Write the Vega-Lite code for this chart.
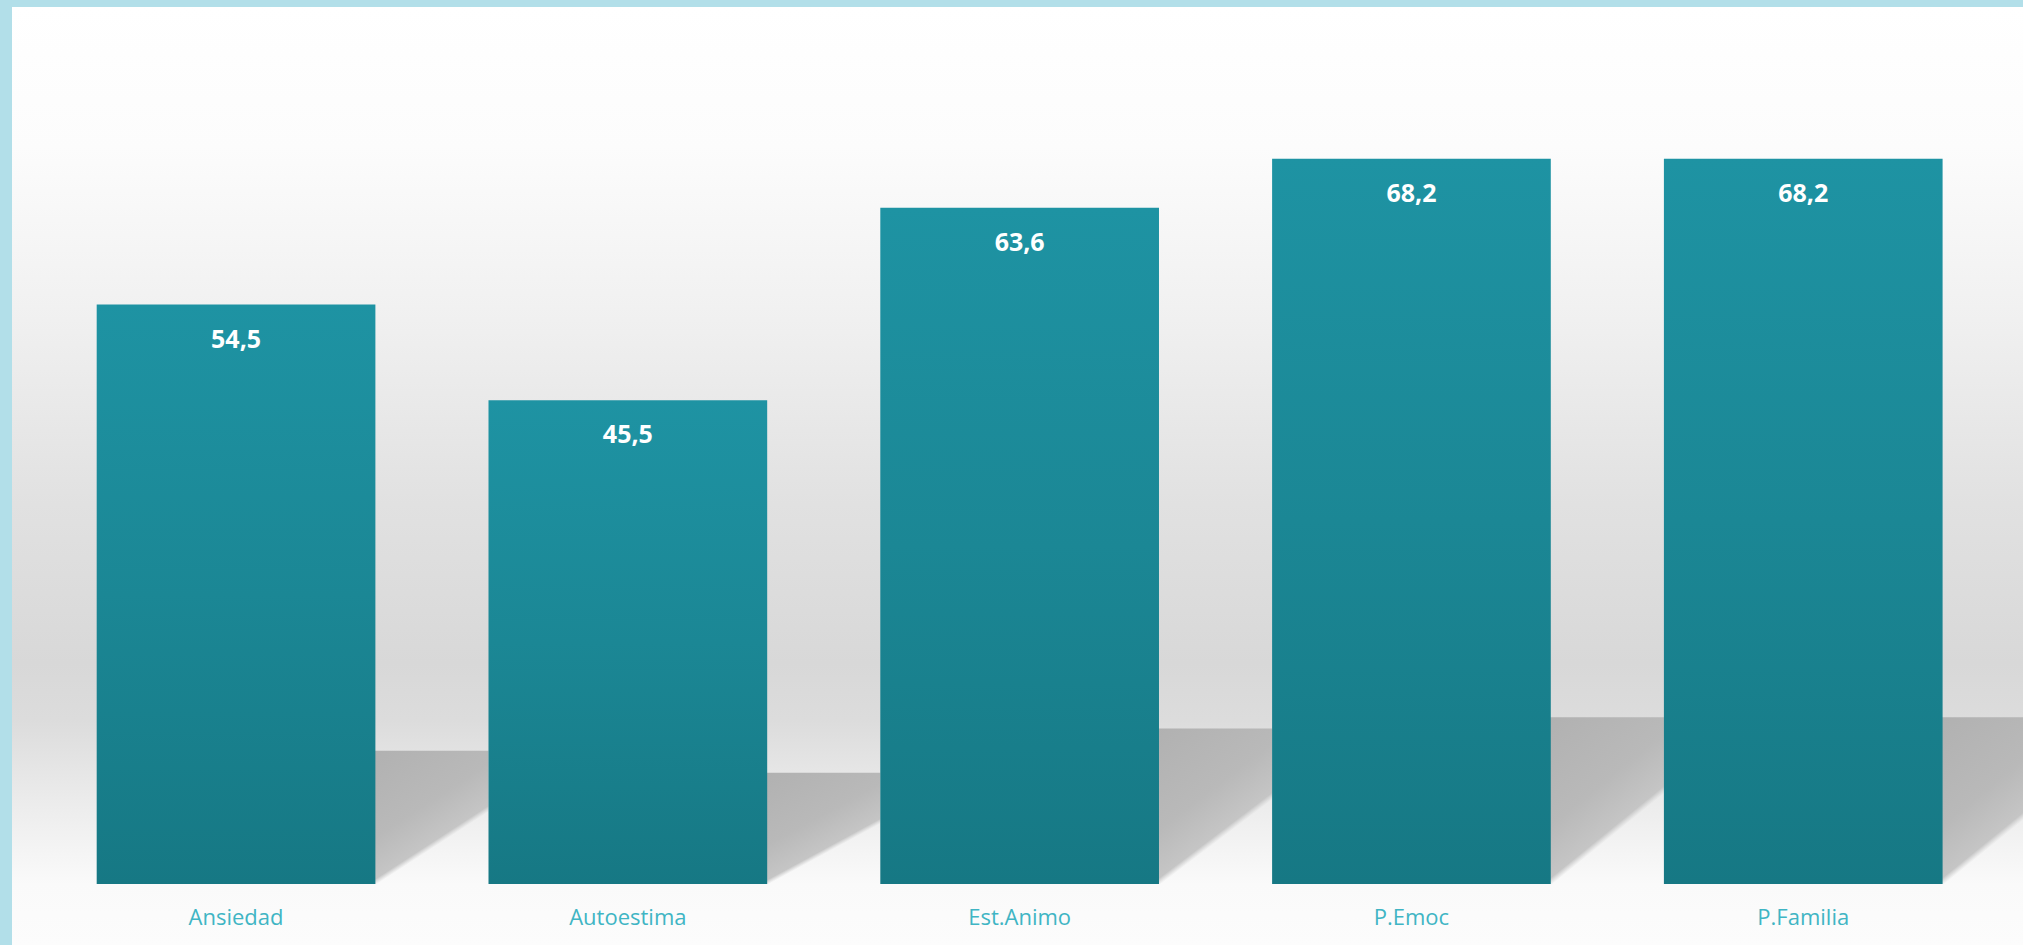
{
  "$schema": "https://vega.github.io/schema/vega-lite/v6.json",
  "autosize": {"type": "fit", "contains": "padding"},
  "width": 2023,
  "height": 945,
  "padding": {"left": 12, "top": 7, "right": 0, "bottom": 0},
  "background": "#b2dfe9",
  "config": {
    "locale": {"number": {"decimal": ",", "thousands": ".", "grouping": [3], "currency": ["", " €"]}},
    "view": {
      "stroke": null,
      "fill": {
        "gradient": "linear", "x1": 0, "y1": 0, "x2": 0, "y2": 1,
        "stops": [
          {"offset": 0, "color": "#ffffff"},
          {"offset": 0.15, "color": "#fcfcfc"},
          {"offset": 0.32, "color": "#f1f1f1"},
          {"offset": 0.53, "color": "#e1e1e1"},
          {"offset": 0.7, "color": "#d8d8d8"},
          {"offset": 0.76, "color": "#dcdcdc"},
          {"offset": 0.85, "color": "#ececec"},
          {"offset": 0.935, "color": "#fafafa"},
          {"offset": 1, "color": "#fcfcfc"}
        ]
      }
    }
  },
  "data": {
    "values": [
      {"categoria": "Ansiedad", "valor": 54.5},
      {"categoria": "Autoestima", "valor": 45.5},
      {"categoria": "Est.Animo", "valor": 63.6},
      {"categoria": "P.Emoc", "valor": 68.2},
      {"categoria": "P.Familia", "valor": 68.2}
    ]
  },
  "encoding": {
    "x": {
      "field": "categoria", "type": "nominal", "sort": null,
      "scale": {"paddingInner": 0.2887, "paddingOuter": 0.2107, "align": 0.513},
      "axis": {
        "title": null, "orient": "bottom", "offset": -61, "domain": false, "ticks": false,
        "labelPadding": 23, "labelFontSize": 22, "labelColor": "#3fb5c4",
        "labelFont": "Open Sans", "labelAngle": 0, "labelBaseline": "top", "grid": false
      }
    }
  },
  "layer": [
    {
      "mark": {
        "type": "bar", "width": 115, "xOffset": 195, "clip": true,
        "fill": {
          "gradient": "linear", "x1": 0, "y1": 0, "x2": 0.56, "y2": 1,
          "stops": [
            {"offset": 0, "color": "#b1b1b1"},
            {"offset": 0.5, "color": "#b9b9b9"},
            {"offset": 0.74, "color": "#c5c5c5"},
            {"offset": 0.775, "color": "rgba(205,205,205,0)"},
            {"offset": 1, "color": "rgba(205,205,205,0)"}
          ]
        }
      },
      "encoding": {
        "y": {"field": "valor", "type": "quantitative", "stack": null,
              "scale": {"domain": [-24.94, 358.5], "nice": false, "zero": false}, "axis": null},
        "y2": {"datum": 0}
      }
    },
    {
      "mark": {
        "type": "bar",
        "fill": {
          "gradient": "linear", "x1": 0, "y1": 0, "x2": 0, "y2": 1,
          "stops": [
            {"offset": 0, "color": "#1e93a3"},
            {"offset": 0.5, "color": "#1b8795"},
            {"offset": 1, "color": "#167884"}
          ]
        }
      },
      "encoding": {
        "y": {"field": "valor", "type": "quantitative", "stack": null,
              "scale": {"domain": [-5.737, 82.48], "nice": false, "zero": false}, "axis": null},
        "y2": {"datum": 0}
      }
    },
    {
      "mark": {"type": "text", "baseline": "middle", "dy": 35, "fill": "#ffffff",
               "fontSize": 25, "fontWeight": "bold", "font": "Open Sans"},
      "encoding": {
        "y": {"field": "valor", "type": "quantitative",
              "scale": {"domain": [-5.737, 82.48], "nice": false, "zero": false}, "axis": null},
        "text": {"field": "valor", "type": "quantitative", "format": ".1f"}
      }
    }
  ],
  "resolve": {"scale": {"y": "independent"}}
}
